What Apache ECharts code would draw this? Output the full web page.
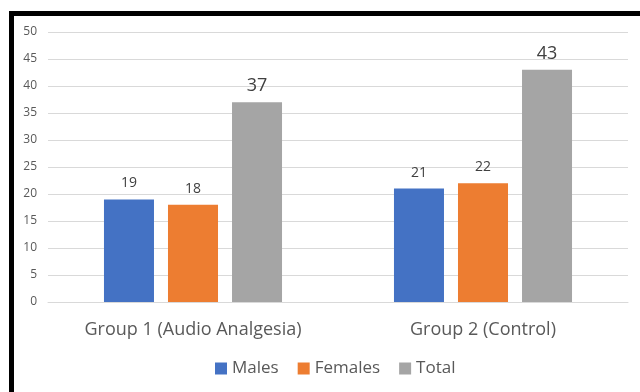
<!DOCTYPE html>
<html>
<head>
<meta charset="utf-8">
<script src="https://cdn.jsdelivr.net/npm/echarts@6/dist/echarts.min.js"></script>
<style>html,body{margin:0;padding:0;background:#fff;}#c{width:640px;height:392px;}</style>
</head>
<body>
<div id="c"></div>
<script>
var categories = ['Group 1 (Audio Analgesia)', 'Group 2 (Control)'];
var males = [19, 21];
var females = [18, 22];
var total = [37, 43];
var yTicks = [0, 5, 10, 15, 20, 25, 30, 35, 40, 45, 50];

var chart = echarts.init(document.getElementById('c'), null, {renderer: 'canvas'});
var font = '"Open Sans", "Liberation Sans", sans-serif';
function labelCfg(size, dist) {
  return {show: true, position: 'top', distance: dist, color: '#404040', fontSize: size, fontFamily: font};
}
chart.setOption({
  animation: false,
  backgroundColor: '#ffffff',
  textStyle: {fontFamily: font},
  grid: {left: 48, right: 12, top: 32, bottom: 90, containLabel: false},
  graphic: [
    {type: 'rect', shape: {x: 9, y: 11, width: 631, height: 5}, style: {fill: '#000'}, silent: true},
    {type: 'rect', shape: {x: 9, y: 11, width: 5, height: 381}, style: {fill: '#000'}, silent: true}
  ],
  legend: {
    data: ['Males', 'Females', 'Total'],
    bottom: 10,
    left: 210,
    icon: 'rect',
    itemWidth: 12,
    itemHeight: 12,
    itemGap: 19,
    textStyle: {color: '#595959', fontSize: 17, fontFamily: font}
  },
  xAxis: {
    type: 'category',
    data: categories,
    axisLine: {show: true, lineStyle: {color: '#d9d9d9', width: 1}},
    axisTick: {show: false},
    axisLabel: {color: '#595959', fontSize: 18, margin: 19, fontFamily: font}
  },
  yAxis: {
    type: 'value',
    min: yTicks[0],
    max: yTicks[yTicks.length - 1],
    interval: 5,
    axisLine: {show: false},
    axisTick: {show: false},
    axisLabel: {color: '#595959', fontSize: 12, margin: 11, fontFamily: font},
    splitLine: {lineStyle: {color: '#d9d9d9', width: 1}}
  },
  series: [
    {name: 'Males', type: 'bar', data: males, barGap: '28%', barCategoryGap: '38.6%',
     itemStyle: {color: '#4472C4'}, label: labelCfg(14, 9)},
    {name: 'Females', type: 'bar', data: females, barGap: '28%', barCategoryGap: '38.6%',
     itemStyle: {color: '#ED7D31'}, label: labelCfg(14, 9)},
    {name: 'Total', type: 'bar', data: total, barGap: '28%', barCategoryGap: '38.6%',
     itemStyle: {color: '#A5A5A5'}, label: labelCfg(18, 7)}
  ]
});
</script>
</body>
</html>
